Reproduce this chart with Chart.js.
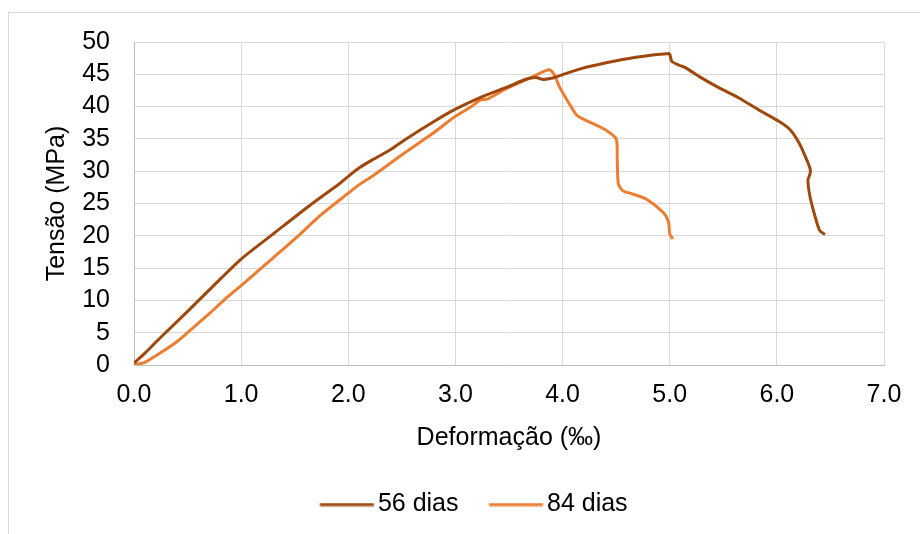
<!DOCTYPE html>
<html>
<head>
<meta charset="utf-8">
<script src="https://cdn.jsdelivr.net/npm/chart.js@4.4.0/dist/chart.umd.min.js"></script>
<style>
    html, body { margin: 0; padding: 0; background: #fff; overflow: hidden; }
    .frame { position: absolute; left: 8px; top: 12px; width: 1000px; height: 1000px; border: 1px solid #d9d9d9; }
    .wrap { position: absolute; left: 0; top: 0; width: 920px; height: 534px; }
</style>
</head>
<body>
<div class="frame"></div>
<div class="wrap"><canvas id="myChart" width="920" height="534"></canvas></div>
<script>
// strain (‰) / stress (MPa)
const strain56 = [0.00, 0.10, 0.25, 0.50, 0.75, 1.00, 1.30, 1.64, 1.92, 2.00, 2.11, 2.23, 2.40, 2.54, 2.80, 3.00, 3.23, 3.48, 3.65, 3.75, 3.82, 3.90, 3.94, 4.10, 4.25, 4.56, 4.84, 4.98, 5.00, 5.02, 5.09, 5.15, 5.28, 5.44, 5.65, 5.84, 6.03, 6.13, 6.21, 6.26, 6.31, 6.31, 6.29, 6.31, 6.35, 6.40, 6.45];
const stress56 = [0.3, 1.8, 4.3, 8.3, 12.4, 16.4, 20.3, 24.7, 28.1, 29.2, 30.6, 31.8, 33.4, 35.0, 37.7, 39.6, 41.4, 43.0, 44.2, 44.5, 44.2, 44.4, 44.6, 45.5, 46.2, 47.3, 48.0, 48.2, 48.1, 47.0, 46.4, 46.0, 44.6, 43.1, 41.3, 39.4, 37.6, 36.3, 34.3, 32.5, 30.4, 29.6, 28.6, 26.0, 23.4, 20.8, 20.2];

const strain84 = [0.00, 0.10, 0.23, 0.40, 0.54, 0.70, 0.85, 1.00, 1.14, 1.30, 1.52, 1.75, 2.00, 2.11, 2.23, 2.54, 2.80, 3.00, 3.15, 3.23, 3.30, 3.48, 3.72, 3.87, 3.92, 3.97, 4.05, 4.13, 4.20, 4.28, 4.40, 4.50, 4.51, 4.52, 4.56, 4.65, 4.78, 4.94, 4.99, 5.00, 5.03];
const stress84 = [0.0, 0.4, 1.7, 3.6, 5.6, 7.9, 10.2, 12.3, 14.3, 16.6, 19.8, 23.3, 26.6, 28.0, 29.3, 33.0, 36.0, 38.5, 40.0, 41.0, 41.2, 42.8, 44.6, 45.7, 45.0, 43.1, 40.8, 38.7, 38.0, 37.4, 36.4, 35.0, 32.0, 28.1, 27.0, 26.5, 25.7, 23.6, 22.1, 20.3, 19.5];

const seriesNames = ["56 dias", "84 dias"];
const seriesColors = ["#9E480E", "#ED7D31"];
const xTitle = "Deformação (‰)";
const yTitle = "Tensão (MPa)";

function toPoints(xs, ys) {
    return xs.map((x, i) => ({ x: x, y: ys[i] }));
}

// legend swatch: a plain 54px line, shifted so the label sits close to it
function lineSwatch(color) {
    const c = document.createElement("canvas");
    c.width = 70;
    c.height = 4;
    const g = c.getContext("2d");
    g.strokeStyle = color;
    g.lineWidth = 3;
    g.beginPath();
    g.moveTo(12.5, 2);
    g.lineTo(66.5, 2);
    g.stroke();
    return c;
}

Chart.defaults.font.family = "'Liberation Sans', Arial, sans-serif";
Chart.defaults.color = "#000";

let chart = new Chart("myChart", {
    type: "scatter",
    data: {
        datasets: [{
            label: seriesNames[0],
            data: toPoints(strain56, stress56),
            borderColor: seriesColors[0],
            backgroundColor: seriesColors[0],
            borderWidth: 3,
            showLine: true,
            pointRadius: 0,
            tension: 0.25
        }, {
            label: seriesNames[1],
            data: toPoints(strain84, stress84),
            borderColor: seriesColors[1],
            backgroundColor: seriesColors[1],
            borderWidth: 3,
            showLine: true,
            pointRadius: 0,
            tension: 0.25
        }]
    },
    options: {
        responsive: false,
        animation: false,
        layout: { padding: { left: 38, right: 11, top: 42, bottom: 7 } },
        plugins: {
            tooltip: { enabled: false },
            legend: {
                position: "bottom",
                labels: {
                    usePointStyle: true,
                    pointStyleWidth: 46,
                    padding: 30,
                    font: { size: 25 },
                    generateLabels: function (ch) {
                        return ch.data.datasets.map((ds, i) => ({
                            text: ds.label,
                            pointStyle: lineSwatch(seriesColors[i]),
                            fillStyle: seriesColors[i],
                            strokeStyle: seriesColors[i],
                            lineWidth: 0,
                            hidden: false,
                            datasetIndex: i
                        }));
                    }
                }
            }
        },
        scales: {
            x: {
                type: "linear",
                min: 0,
                max: 7,
                border: { color: "#bfbfbf" },
                grid: { color: "#d9d9d9", drawTicks: false },
                ticks: {
                    stepSize: 1,
                    padding: 15,
                    font: { size: 25 },
                    callback: v => v.toFixed(1)
                },
                title: { display: true, text: xTitle, font: { size: 25 }, padding: { top: 0, bottom: 9 } },
                afterFit: s => { s.height = 97; }
            },
            y: {
                min: 0,
                max: 50,
                border: { color: "#bfbfbf" },
                grid: { color: "#d9d9d9", drawTicks: false },
                ticks: { stepSize: 5, padding: 24, autoSkip: false, font: { size: 25 } },
                title: { display: true, text: yTitle, font: { size: 25 }, padding: 4 },
                afterFit: s => { s.width = 96; }
            },
            // empty spacer on the right so the plot ends where the reference does
            pad: {
                type: "linear",
                position: "right",
                display: true,
                grid: { display: false },
                border: { display: false },
                ticks: { display: false },
                afterFit: s => { s.width = 25; }
            }
        }
    }
});
</script>
</body>
</html>
